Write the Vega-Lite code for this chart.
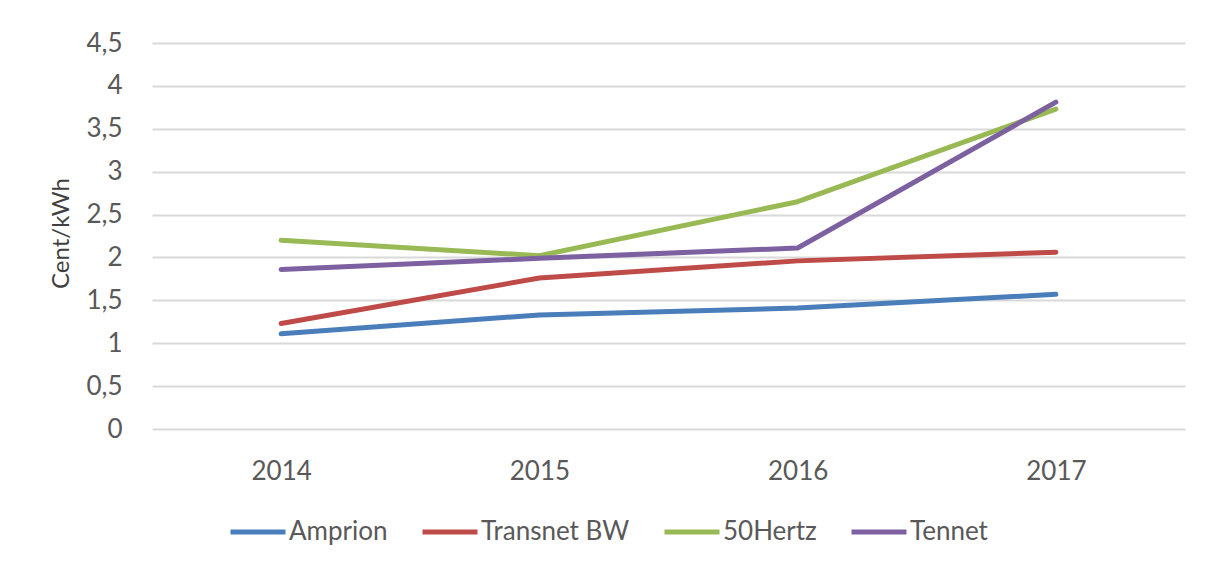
{
  "$schema": "https://vega.github.io/schema/vega-lite/v6.json",
  "autosize": {"type": "none"},
  "padding": {"left": 152, "top": 43, "right": 21, "bottom": 135},
  "width": 1033,
  "height": 386,
  "background": "white",
  "config": {
    "view": {"stroke": null},
    "font": "Lato",
    "axis": {"labelFont": "Lato", "titleFont": "Lato"},
    "legend": {"labelFont": "Lato"}
  },
  "data": {
    "values": [
      {"year": "2014", "tso": "Amprion", "value": 1.11},
      {"year": "2015", "tso": "Amprion", "value": 1.33},
      {"year": "2016", "tso": "Amprion", "value": 1.41},
      {"year": "2017", "tso": "Amprion", "value": 1.57},
      {"year": "2014", "tso": "Transnet BW", "value": 1.23},
      {"year": "2015", "tso": "Transnet BW", "value": 1.76},
      {"year": "2016", "tso": "Transnet BW", "value": 1.96},
      {"year": "2017", "tso": "Transnet BW", "value": 2.06},
      {"year": "2014", "tso": "50Hertz", "value": 2.2},
      {"year": "2015", "tso": "50Hertz", "value": 2.02},
      {"year": "2016", "tso": "50Hertz", "value": 2.65},
      {"year": "2017", "tso": "50Hertz", "value": 3.73},
      {"year": "2014", "tso": "Tennet", "value": 1.86},
      {"year": "2015", "tso": "Tennet", "value": 1.99},
      {"year": "2016", "tso": "Tennet", "value": 2.11},
      {"year": "2017", "tso": "Tennet", "value": 3.81}
    ]
  },
  "mark": {"type": "line", "strokeWidth": 5, "strokeCap": "round", "strokeJoin": "round"},
  "encoding": {
    "x": {
      "field": "year",
      "type": "ordinal",
      "scale": {"type": "point", "padding": 0.5},
      "axis": {
        "title": null,
        "labelAngle": 0,
        "domain": false,
        "ticks": false,
        "tickSize": 0,
        "grid": false,
        "labelFontSize": 26,
        "labelColor": "#595959",
        "labelPadding": 29,
        "labelBaseline": "top"
      }
    },
    "y": {
      "field": "value",
      "type": "quantitative",
      "scale": {"domain": [0, 4.5], "nice": false, "zero": true},
      "axis": {
        "title": "Cent/kWh",
        "values": [0, 0.5, 1, 1.5, 2, 2.5, 3, 3.5, 4, 4.5],
        "format": ",.1~f",
        "formatType": "number",
        "labelExpr": "replace(datum.label, '.', ',')",
        "domain": false,
        "ticks": false,
        "tickSize": 0,
        "grid": true,
        "gridColor": "#D9D9D9",
        "gridWidth": 2,
        "labelFontSize": 26,
        "labelColor": "#595959",
        "labelPadding": 30,
        "labelBaseline": "middle",
        "titleFontSize": 24,
        "titleFontWeight": "normal",
        "titleColor": "#404040",
        "titleAngle": -90,
        "titleX": -84,
        "titleY": 190,
        "titleAlign": "center",
        "titleBaseline": "alphabetic"
      }
    },
    "color": {
      "field": "tso",
      "type": "nominal",
      "scale": {
        "domain": ["Amprion", "Transnet BW", "50Hertz", "Tennet"],
        "range": ["#4A7EBB", "#BE4B48", "#98B954", "#7D60A0"]
      },
      "legend": {
        "title": null,
        "orient": "none",
        "direction": "horizontal",
        "legendX": 76,
        "legendY": 459,
        "symbolType": "stroke",
        "symbolSize": 3025,
        "symbolStrokeWidth": 5,
        "labelFontSize": 26,
        "labelColor": "#595959",
        "labelOffset": 1,
        "columnPadding": 24
      }
    }
  }
}
